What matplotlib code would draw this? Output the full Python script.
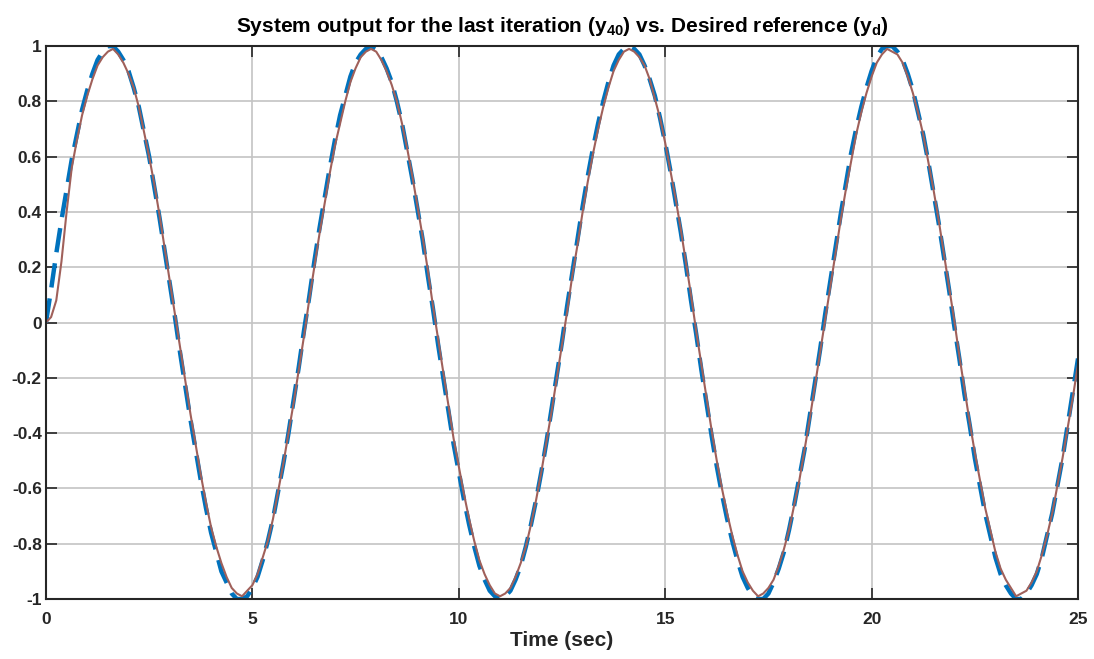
"""
Last-iteration output of the learning controller against the desired sine reference.
"""

import numpy as np
import matplotlib
matplotlib.use("Agg")
import matplotlib.pyplot as plt

plt.rcParams["font.family"] = ["Liberation Sans", "DejaVu Sans"]
plt.rcParams["font.weight"] = "bold"
plt.rcParams["mathtext.default"] = "regular"

# samples every 0.125 s (8 per row = 1 s)
time_sec = np.linspace(0, 25, 201)

y_desired = [
    0.00, 0.12, 0.25, 0.37, 0.48, 0.59, 0.68, 0.77,
    0.84, 0.90, 0.95, 0.98, 1.00, 1.00, 0.98, 0.95,
    0.91, 0.85, 0.78, 0.69, 0.60, 0.49, 0.38, 0.26,
    0.14, 0.02, -0.11, -0.23, -0.35, -0.46, -0.57, -0.67,
    -0.76, -0.83, -0.90, -0.94, -0.98, -1.00, -1.00, -0.99,
    -0.96, -0.92, -0.86, -0.79, -0.71, -0.61, -0.51, -0.40,
    -0.28, -0.16, -0.03, 0.09, 0.22, 0.34, 0.45, 0.56,
    0.66, 0.75, 0.82, 0.89, 0.94, 0.97, 0.99, 1.00,
    0.99, 0.96, 0.92, 0.87, 0.80, 0.72, 0.62, 0.52,
    0.41, 0.30, 0.17, 0.05, -0.08, -0.20, -0.32, -0.44,
    -0.54, -0.64, -0.73, -0.81, -0.88, -0.93, -0.97, -0.99,
    -1.00, -0.99, -0.97, -0.93, -0.88, -0.81, -0.73, -0.64,
    -0.54, -0.43, -0.31, -0.19, -0.07, 0.06, 0.18, 0.30,
    0.42, 0.53, 0.63, 0.72, 0.80, 0.87, 0.93, 0.97,
    0.99, 1.00, 0.99, 0.97, 0.93, 0.88, 0.82, 0.74,
    0.65, 0.55, 0.44, 0.33, 0.21, 0.08, -0.04, -0.17,
    -0.29, -0.41, -0.52, -0.62, -0.71, -0.79, -0.86, -0.92,
    -0.96, -0.99, -1.00, -1.00, -0.98, -0.94, -0.89, -0.83,
    -0.75, -0.66, -0.56, -0.46, -0.34, -0.22, -0.10, 0.03,
    0.15, 0.27, 0.39, 0.50, 0.61, 0.70, 0.78, 0.85,
    0.91, 0.96, 0.99, 1.00, 1.00, 0.98, 0.95, 0.90,
    0.84, 0.76, 0.68, 0.58, 0.47, 0.36, 0.24, 0.12,
    -0.01, -0.13, -0.26, -0.37, -0.49, -0.59, -0.69, -0.77,
    -0.85, -0.91, -0.95, -0.98, -1.00, -1.00, -0.98, -0.95,
    -0.91, -0.85, -0.77, -0.69, -0.59, -0.49, -0.37, -0.25,
    -0.13,
]

y_40 = [
    0.00, 0.02, 0.08, 0.22, 0.40, 0.56, 0.66, 0.75,
    0.82, 0.88, 0.93, 0.96, 0.98, 0.99, 0.97, 0.94,
    0.90, 0.85, 0.78, 0.69, 0.60, 0.50, 0.39, 0.27,
    0.15, 0.03, -0.09, -0.21, -0.33, -0.44, -0.55, -0.65,
    -0.74, -0.81, -0.87, -0.92, -0.96, -0.98, -0.99, -0.97,
    -0.95, -0.91, -0.85, -0.79, -0.71, -0.61, -0.51, -0.40,
    -0.29, -0.17, -0.05, 0.08, 0.20, 0.32, 0.43, 0.54,
    0.64, 0.72, 0.80, 0.87, 0.92, 0.96, 0.98, 0.99,
    0.98, 0.95, 0.91, 0.86, 0.80, 0.72, 0.63, 0.53,
    0.42, 0.31, 0.19, 0.06, -0.06, -0.18, -0.30, -0.42,
    -0.52, -0.62, -0.71, -0.79, -0.86, -0.91, -0.95, -0.98,
    -0.99, -0.98, -0.96, -0.92, -0.87, -0.81, -0.73, -0.64,
    -0.54, -0.43, -0.32, -0.20, -0.08, 0.04, 0.17, 0.28,
    0.40, 0.51, 0.61, 0.70, 0.78, 0.85, 0.91, 0.95,
    0.98, 0.99, 0.98, 0.96, 0.93, 0.88, 0.81, 0.74,
    0.65, 0.55, 0.45, 0.34, 0.22, 0.10, -0.03, -0.15,
    -0.27, -0.39, -0.50, -0.60, -0.69, -0.77, -0.84, -0.90,
    -0.94, -0.97, -0.99, -0.98, -0.96, -0.93, -0.88, -0.82,
    -0.75, -0.66, -0.57, -0.46, -0.35, -0.23, -0.11, 0.01,
    0.13, 0.25, 0.37, 0.48, 0.58, 0.68, 0.76, 0.83,
    0.89, 0.94, 0.97, 0.99, 0.98, 0.97, 0.94, 0.89,
    0.83, 0.76, 0.68, 0.58, 0.48, 0.37, 0.25, 0.13,
    0.01, -0.12, -0.24, -0.36, -0.47, -0.57, -0.67, -0.75,
    -0.83, -0.89, -0.93, -0.96, -0.99, -0.98, -0.97, -0.94,
    -0.90, -0.84, -0.77, -0.69, -0.59, -0.49, -0.38, -0.27,
    -0.15,
]

x_ticks = [0, 5, 10, 15, 20, 25]
y_ticks = [-1, -0.8, -0.6, -0.4, -0.2, 0, 0.2, 0.4, 0.6, 0.8, 1]
y_tick_labels = ["-1", "-0.8", "-0.6", "-0.4", "-0.2", "0",
                 "0.2", "0.4", "0.6", "0.8", "1"]

fig = plt.figure(figsize=(10.94, 6.59), dpi=100)
ax = fig.add_axes([0.042, 0.091, 0.9434, 0.839])

ax.plot(time_sec, y_desired, color="#0072BD", lw=3.2, ls=(0, (5.5, 2.5)))
ax.plot(time_sec, y_40, color="#A0605A", lw=1.5)

ax.set_xlim(0, 25)
ax.set_ylim(-1, 1)
ax.set_xticks(x_ticks)
ax.set_xticklabels([str(t) for t in x_ticks])
ax.set_yticks(y_ticks)
ax.set_yticklabels(y_tick_labels)
ax.tick_params(direction="in", length=8, width=1.2, top=True, right=True,
               labelsize=12.5, colors="#262626")
ax.tick_params(axis="x", pad=9)
ax.tick_params(axis="y", pad=3)
for lab in ax.get_xticklabels() + ax.get_yticklabels():
    lab.set_fontweight("bold")
for sp in ax.spines.values():
    sp.set_linewidth(1.5)
    sp.set_color("#262626")

ax.grid(True, color="#c4c4c4", lw=1.2)
ax.set_axisbelow(True)

ax.set_xlabel("Time (sec)", fontsize=15, fontweight="bold", color="#262626",
              labelpad=3)
ax.set_title("System output for the last iteration (y$_{40}$) vs. "
             "Desired reference (y$_d$)",
             fontsize=15, fontweight="bold", color="#000000", pad=10)

fig.savefig("out.png", dpi=100)
